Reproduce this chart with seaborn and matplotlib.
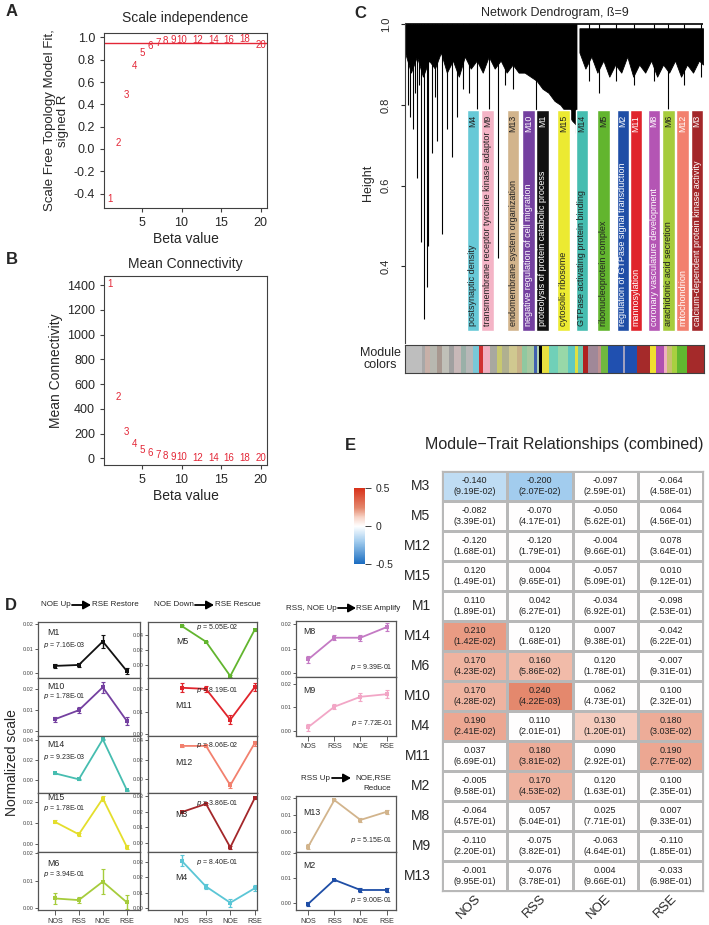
import numpy as np
import pandas as pd
import matplotlib
matplotlib.use("Agg")
import matplotlib.pyplot as plt
import seaborn as sns
from matplotlib.colors import LinearSegmentedColormap

# %% data

# A / B : soft-threshold selection
powers = [1, 2, 3, 4, 5, 6, 7, 8, 9, 10, 12, 14, 16, 18, 20]
sft_signed_r2 = [-0.45, 0.05, 0.48, 0.745, 0.857, 0.92, 0.946, 0.965, 0.975,
                 0.976, 0.98, 0.978, 0.98, 0.985, 0.93]
mean_conn = [1410, 493, 215, 113, 65, 45, 27, 19, 12, 10, 5, 3, 2, 1, 1]
r2_cut = 0.95

# C : dendrogram (leaf position in px from the left edge)
left_mass_x = [0, 6, 12, 18, 24, 30, 36, 42, 48, 54, 60, 66, 72, 78, 84, 90, 96,
               102, 108, 114, 120, 126, 132, 138, 144, 150, 156, 162, 168, 172]
left_mass_h = [0.93, 0.88, 0.92, 0.87, 0.91, 0.89, 0.93, 0.88, 0.91, 0.87, 0.92,
               0.89, 0.91, 0.88, 0.92, 0.89, 0.91, 0.88, 0.90, 0.88, 0.88, 0.87,
               0.86, 0.84, 0.83, 0.81, 0.80, 0.78, 0.76, 0.75]
right_mass_x = [175, 181, 187, 193, 199, 205, 211, 217, 223, 229, 235, 241, 247,
                253, 259, 265, 271, 277, 283, 289, 295, 299]
right_mass_h = [0.93, 0.89, 0.92, 0.88, 0.91, 0.87, 0.90, 0.88, 0.92, 0.87, 0.90,
                0.88, 0.91, 0.87, 0.90, 0.88, 0.91, 0.87, 0.90, 0.88, 0.91, 0.90]
drop_x = [3, 5, 8, 10, 12, 14, 16, 19, 22, 23, 27, 30, 32, 37, 42, 47, 52, 58, 64,
          72, 84, 93, 100, 108, 131, 172, 185, 195, 212, 230, 250, 264, 280, 297]
drop_h = [0.80, 0.77, 0.74, 0.83, 0.62, 0.85, 0.46, 0.27, 0.35, 0.45, 0.68, 0.82,
          0.71, 0.48, 0.74, 0.67, 0.77, 0.84, 0.83, 0.79, 0.79, 0.42, 0.85, 0.84,
          0.72, 0.73, 0.86, 0.83, 0.86, 0.85, 0.86, 0.79, 0.85, 0.87]

strip_colors = ["#bebebe", "#a8a8a8", "#c8b0a8", "#b8b8b0", "#a89890", "#c0c0b8",
                "#a0a0a0", "#c8b8b8", "#9ab0a8", "#b8b8b8", "#78c8d8", "#d03030",
                "#f0b0c0", "#a8a8a0", "#c8c870", "#b0b090", "#d0c890", "#c8b088",
                "#90c8a0", "#a8c8a0", "#4060b0", "#b0d0b0", "#000000", "#e8e040",
                "#70d0b8", "#98d8a8", "#60c8c0", "#e0e040", "#70c8b0", "#b02020",
                "#a08898", "#c09090", "#70b840", "#2050b0", "#a0a0c0", "#1e4fb0",
                "#a52a2a", "#f0e030", "#b050b0", "#f0b0c0", "#c8c070", "#a8d040",
                "#60b830", "#a52a2a"]
strip_widths = [17, 3, 5, 7, 5, 7, 5, 7, 5, 7, 6, 4, 7, 7, 5, 7, 8, 5, 5, 7, 3, 2,
                3, 7, 10, 10, 7, 3, 5, 5, 10, 3, 7, 15, 2, 12, 13, 6, 8, 3, 5, 5,
                10, 17]

go_modules = ["M4", "M9", "M13", "M10", "M1", "M15", "M14", "M5", "M2", "M11",
              "M8", "M6", "M12", "M3"]
go_terms = ["postsynaptic density",
            "transmembrane receptor tyrosine kinase adaptor",
            "endomembrane system organization",
            "negative regulation of cell migration",
            "proteolysis of protein catabolic process",
            "cytosolic ribosome",
            "GTPase activating protein binding",
            "ribonucleoprotein complex",
            "regulation of GTPase signal transduction",
            "mannosylation",
            "coronary vasculature development",
            "arachidonic acid secretion",
            "mitochondrion",
            "calcium-dependent protein kinase activity"]

# D : module eigengene trends
conditions = ["NOS", "RSS", "NOE", "RSE"]
trend_modules = ["M1", "M10", "M14", "M15", "M6",
                 "M5", "M11", "M12", "M3", "M4",
                 "M8", "M9", "M13", "M2"]
trend_means = [[0.0028, 0.0032, 0.0129, 0.0007],
               [0.0056, 0.0099, 0.0208, 0.0048],
               [0.0067, 0.0007, 0.0407, -0.0100],
               [0.0105, 0.0046, 0.0215, -0.0013],
               [0.0036, 0.0030, 0.0097, 0.0022],
               [0.0520, 0.0310, -0.0147, 0.0467],
               [0.0205, 0.0200, 0.0064, 0.0207],
               [0.0340, 0.0340, -0.0060, 0.0366],
               [0.0197, 0.0250, -0.0030, 0.0285],
               [0.0310, 0.0140, 0.0033, 0.0128],
               [0.0057, 0.0145, 0.0145, 0.0188],
               [0.0015, 0.0103, 0.0146, 0.0157],
               [-0.0088, 0.0186, 0.0069, 0.0117],
               [-0.0005, 0.0092, 0.0051, 0.0051]]
trend_sems = [[0.0010, 0.0008, 0.0025, 0.0012],
              [0.0013, 0.0013, 0.0025, 0.0017],
              [0.0005, 0.0005, 0.0008, 0.0005],
              [0.0007, 0.0006, 0.0012, 0.0009],
              [0.0020, 0.0012, 0.0045, 0.0026],
              [0.0008, 0.0008, 0.0010, 0.0008],
              [0.0020, 0.0012, 0.0020, 0.0017],
              [0.0013, 0.0013, 0.0030, 0.0022],
              [0.0005, 0.0005, 0.0010, 0.0005],
              [0.0035, 0.0015, 0.0025, 0.0020],
              [0.0013, 0.0010, 0.0013, 0.0015],
              [0.0015, 0.0010, 0.0017, 0.0017],
              [0.0015, 0.0008, 0.0012, 0.0012],
              [0.0007, 0.0005, 0.0007, 0.0007]]
trend_pvals = ["7.16E-03", "1.78E-01", "9.23E-03", "1.78E-01", "3.94E-01",
               "5.05E-02", "8.19E-01", "8.06E-02", "3.86E-01", "8.40E-01",
               "9.39E-01", "7.72E-01", "5.15E-01", "9.00E-01"]

# E : module-trait correlations
traits = ["NOS", "RSS", "NOE", "RSE"]
trait_modules = ["M3", "M5", "M12", "M15", "M1", "M14", "M6", "M10", "M4", "M11",
                 "M2", "M8", "M9", "M13"]
cor_vals = [[-0.140, -0.200, -0.097, -0.064],
            [-0.082, -0.070, -0.050, 0.064],
            [-0.120, -0.120, -0.004, 0.078],
            [0.120, 0.004, -0.057, 0.010],
            [0.110, 0.042, -0.034, -0.098],
            [0.210, 0.120, 0.007, -0.042],
            [0.170, 0.160, 0.120, -0.007],
            [0.170, 0.240, 0.062, 0.100],
            [0.190, 0.110, 0.130, 0.180],
            [0.037, 0.180, 0.090, 0.190],
            [-0.005, 0.170, 0.120, 0.100],
            [-0.064, 0.057, 0.025, 0.007],
            [-0.110, -0.075, -0.063, -0.110],
            [-0.001, -0.076, 0.004, -0.033]]
cor_pvals = [["9.19E-02", "2.07E-02", "2.59E-01", "4.58E-01"],
             ["3.39E-01", "4.17E-01", "5.62E-01", "4.56E-01"],
             ["1.68E-01", "1.79E-01", "9.66E-01", "3.64E-01"],
             ["1.49E-01", "9.65E-01", "5.09E-01", "9.12E-01"],
             ["1.89E-01", "6.27E-01", "6.92E-01", "2.53E-01"],
             ["1.42E-02", "1.68E-01", "9.38E-01", "6.22E-01"],
             ["4.23E-02", "5.86E-02", "1.78E-01", "9.31E-01"],
             ["4.28E-02", "4.22E-03", "4.73E-01", "2.32E-01"],
             ["2.41E-02", "2.01E-01", "1.20E-01", "3.03E-02"],
             ["6.69E-01", "3.81E-02", "2.92E-01", "2.77E-02"],
             ["9.58E-01", "4.53E-02", "1.63E-01", "2.35E-01"],
             ["4.57E-01", "5.04E-01", "7.71E-01", "9.33E-01"],
             ["2.20E-01", "3.82E-01", "4.64E-01", "1.85E-01"],
             ["9.95E-01", "3.78E-01", "9.66E-01", "6.98E-01"]]

# %% style

module_colors = {"M1": "#111111", "M2": "#1f4ea6", "M3": "#a3272a", "M4": "#67c9d7",
                 "M5": "#62b52e", "M6": "#a6cc3c", "M8": "#b455b4", "M9": "#f4b4c6",
                 "M10": "#7440a0", "M11": "#e0242c", "M12": "#f2806e", "M13": "#d2b48c",
                 "M14": "#46bdb0", "M15": "#ecea32"}
trend_colors = dict(module_colors, M15="#e4de2c", M8="#c47ac4", M9="#f2a6c6",
                    M4="#5bc6d6")
light_text = {"M10", "M1", "M2", "M11", "M8", "M12", "M3"}
red = "#e32636"
edge = "#404040"

sns.set_style("ticks")
plt.rcParams['font.family'] = ['Liberation Sans', 'DejaVu Sans']
plt.rcParams['axes.edgecolor'] = edge
plt.rcParams['axes.linewidth'] = 0.8

W, H = 709, 925
fig = plt.figure(figsize=(W / 100, H / 100), dpi=100)


def px_axes(x0, y0, x1, y1):
    # pixel box (top-left origin) -> figure axes
    return fig.add_axes([x0 / W, 1 - y1 / H, (x1 - x0) / W, (y1 - y0) / H])


def fx(x):
    return x / W


def fy(y):
    return 1 - y / H


# %% A  scale independence
axA = px_axes(104, 33, 267, 208)
axA.axhline(r2_cut, color=red, lw=1)
for p, v in zip(powers, sft_signed_r2):
    axA.text(p, v, str(p), color=red, fontsize=7, ha='center', va='center')
axA.set_xlim(0.2, 20.8)
axA.set_ylim(-0.53, 1.04)
axA.set_xticks([5, 10, 15, 20])
axA.set_yticks([-0.4, -0.2, 0.0, 0.2, 0.4, 0.6, 0.8, 1.0])
axA.set_yticklabels([f"{t:.1f}" for t in [-0.4, -0.2, 0.0, 0.2, 0.4, 0.6, 0.8, 1.0]])
axA.tick_params(labelsize=9, length=3, width=0.8, color=edge)
axA.set_xlabel("Beta value", fontsize=10, labelpad=2)
axA.set_ylabel("Scale Free Topology Model Fit,\nsigned R", fontsize=9.5, labelpad=3)
axA.set_title("Scale independence", fontsize=10, pad=8)

# %% B  mean connectivity
axB = px_axes(104, 276, 267, 465)
for p, v in zip(powers, mean_conn):
    axB.text(p, v, str(p), color=red, fontsize=7, ha='center', va='center')
axB.set_xlim(0.2, 20.8)
axB.set_ylim(-54, 1473)
axB.set_xticks([5, 10, 15, 20])
axB.set_yticks(range(0, 1401, 200))
axB.tick_params(labelsize=9, length=3, width=0.8, color=edge)
axB.set_xlabel("Beta value", fontsize=10, labelpad=2)
axB.set_ylabel("Mean Connectivity", fontsize=10, labelpad=3)
axB.set_title("Mean Connectivity", fontsize=10, pad=6)

# %% C  dendrogram + module colors
axC = px_axes(405, 23, 704, 343)
axC.fill_between(left_mass_x, left_mass_h, 1.0, color='black', lw=0.6)
axC.fill_between(right_mass_x, right_mass_h, 0.99, color='black', lw=0.6)
axC.vlines(drop_x, drop_h, 1.0, color='black', lw=0.8)
axC.hlines(1.0, 0, 299, color='black', lw=1.2)

label_x = [68, 83, 108.5, 124, 138, 159, 177.5, 199, 218.5, 232, 250, 264.5, 278.5, 293]
box_top, box_bottom = 0.787, 0.24
axC.bar(label_x, box_top - box_bottom, bottom=box_bottom, width=12.5,
        color=[module_colors[m] for m in go_modules], zorder=2)
for xc, m, term in zip(label_x, go_modules, go_terms):
    tc = 'white' if m in light_text else '#222222'
    axC.text(xc, box_top - 0.012, m, rotation=90, ha='center', va='top',
             fontsize=6.3, color=tc, zorder=3)
    axC.text(xc, box_bottom + 0.012, term, rotation=90, ha='center', va='bottom',
             fontsize=6.5, color=tc, zorder=3)
axC.set_xlim(0, 300)
axC.set_ylim(0.21, 1.003)
axC.set_yticks([0.4, 0.6, 0.8, 1.0])
axC.set_yticklabels(["0.4", "0.6", "0.8", "1.0"], rotation=90, va='center')
axC.tick_params(axis='y', labelsize=8, length=3, width=0.8, pad=7)
axC.set_xticks([])
for s in ['top', 'right', 'bottom']:
    axC.spines[s].set_visible(False)
axC.set_ylabel("Height", fontsize=9, labelpad=5)
axC.set_title("Network Dendrogram, \u00df=9", fontsize=9, pad=5)

axS = px_axes(405, 345, 704, 373)
lefts = np.concatenate([[0], np.cumsum(strip_widths)[:-1]])
axS.bar(lefts, 1, width=strip_widths, align='edge', color=strip_colors, lw=0)
axS.set_xlim(0, sum(strip_widths))
axS.set_ylim(0, 1)
axS.set_xticks([])
axS.set_yticks([])
fig.text(fx(380), fy(359), "Module\ncolors", ha='center', va='center', fontsize=9,
         linespacing=1.1)

# %% D  module trends
d_boxes = [(38, 621.7, 140, 678), (38, 678, 140, 735.7), (38, 735.7, 140, 793),
           (38, 793, 140, 851.7), (38, 851.7, 140, 910),
           (147.7, 621.7, 257, 678), (147.7, 678, 257, 735.7), (147.7, 735.7, 257, 793),
           (147.7, 793, 257, 851.7), (147.7, 851.7, 257, 910),
           (295.7, 621, 396, 677.3), (295.7, 677.3, 396, 735.7),
           (295.7, 796, 396, 851.7), (295.7, 851.7, 396, 910)]
d_ylims = [(-0.0022, 0.0211), (-0.0022, 0.0252), (-0.013, 0.0443), (-0.0036, 0.0241),
           (-0.0006, 0.0206), (-0.0173, 0.0577), (-0.0006, 0.0248), (-0.0139, 0.0444),
           (-0.0058, 0.032), (-0.0015, 0.037), (-0.0016, 0.0213), (-0.0022, 0.023),
           (-0.0118, 0.021), (-0.003, 0.0206)]
d_yticks = [[0, 0.01, 0.02], [0, 0.01, 0.02], [0, 0.02, 0.04], [0, 0.01, 0.02],
            [0, 0.01, 0.02], [0, 0.02, 0.04], [0, 0.01, 0.02], [0, 0.02, 0.04],
            [0, 0.01, 0.02, 0.03], [0, 0.01, 0.02, 0.03], [0, 0.01, 0.02],
            [0, 0.01, 0.02], [0, 0.01, 0.02], [0, 0.01, 0.02]]
d_xlims = [(-0.7, 3.55)] * 5 + [(-1.4, 3.1)] * 5 + [(-0.48, 3.36)] * 4
# (x, y) of module name and p text in axes fraction
d_name_pos = [(0.09, 0.8), (0.09, 0.85), (0.09, 0.84), (0.09, 0.93), (0.09, 0.79),
              (0.26, 0.64), (0.25, 0.53), (0.25, 0.54), (0.25, 0.64), (0.25, 0.56),
              (0.08, 0.82), (0.08, 0.77), (0.08, 0.7), (0.08, 0.76)]
d_p_pos = [(0.05, 0.59), (0.05, 0.68), (0.05, 0.63), (0.05, 0.75), (0.05, 0.62),
           (0.44, 0.9), (0.44, 0.8), (0.44, 0.83), (0.44, 0.83), (0.44, 0.83),
           (0.97, 0.19), (0.97, 0.21), (0.97, 0.21), (0.97, 0.17)]
bottom_row = {"M6", "M4", "M9", "M2"}

for i, m in enumerate(trend_modules):
    ax = px_axes(*d_boxes[i])
    col = trend_colors[m]
    df = pd.DataFrame({"pos": range(len(conditions)), "value": trend_means[i]})
    sns.lineplot(data=df, x="pos", y="value", color=col, marker='s', markersize=3,
                 markeredgewidth=0, lw=1.3, sort=False, ax=ax)
    ax.errorbar(df["pos"], df["value"], yerr=trend_sems[i], fmt='none', ecolor=col,
                elinewidth=1, capsize=1.6, capthick=0.8)
    ax.set_xlim(*d_xlims[i])
    ax.set_ylim(*d_ylims[i])
    ax.set_yticks(d_yticks[i])
    ax.set_yticklabels([f"{t:.2f}" for t in d_yticks[i]])
    ax.set_xticks(range(len(conditions)))
    if m in bottom_row:
        ax.set_xticklabels(conditions)
    else:
        ax.tick_params(axis='x', length=0, labelbottom=False)
    ax.tick_params(axis='y', labelsize=4, length=2, width=0.6, pad=1, color=edge)
    ax.tick_params(axis='x', labelsize=5.2, width=0.6, pad=2, color=edge,
                   labelcolor='#333333')
    ax.tick_params(axis='y', labelcolor='#444444')
    for s in ax.spines.values():
        s.set_color('#555555')
        s.set_linewidth(0.9)
    ax.set_xlabel("")
    ax.set_ylabel("")
    nx, ny = d_name_pos[i]
    ax.text(nx, ny, m, transform=ax.transAxes, fontsize=6.3, ha='left', va='center')
    px_, py_ = d_p_pos[i]
    ax.text(px_, py_, f"$p$ = {trend_pvals[i]}", transform=ax.transAxes, fontsize=5,
            ha='right' if px_ > 0.9 else 'left', va='center')


def arrow_title(left, right, x_left_end, x_arrow0, x_arrow1, x_right_start, y):
    fig.text(fx(x_left_end), fy(y), left, ha='right', va='center', fontsize=5.8)
    fig.text(fx(x_right_start), fy(y), right, ha='left', va='center', fontsize=5.8)
    fig.add_artist(matplotlib.patches.FancyArrowPatch(
        (fx(x_arrow0), fy(y)), (fx(x_arrow1), fy(y)), transform=fig.transFigure,
        arrowstyle='-|>,head_length=0.5,head_width=0.28', mutation_scale=9,
        color='black', lw=1.3, shrinkA=0, shrinkB=0))


arrow_title("NOE Up", "RSE Restore", 71, 72, 91, 92, 605)
arrow_title("NOE Down", "RSE Rescue", 194, 195, 214, 215, 605)
arrow_title("RSS, NOE Up", "RSE Amplify", 337, 338, 356, 356.5, 608)
arrow_title("RSS Up", "NOE,RSE", 330, 332, 351, 355, 778)
fig.text(fx(377), fy(789), "Reduce", ha='center', va='center', fontsize=5.8)

fig.text(fx(12), fy(763), "Normalized scale", rotation=90, ha='center', va='center',
         fontsize=10)

# %% E  module-trait heatmap
cmap = LinearSegmentedColormap.from_list(
    "bwr_wgcna", [(0, '#1a6cc0'), (0.3, '#a3cdee'), (0.5, '#ffffff'),
                  (0.62, '#f7d3c6'), (0.74, '#e4886d'), (1, '#d8321a')])
cor = np.array(cor_vals)
shade = np.where(np.abs(cor) >= 0.125, cor, 0.0)
annot = np.array([[f"{r:.3f}\n({p})" for r, p in zip(rr, pp)]
                  for rr, pp in zip(cor_vals, cor_pvals)])
shade_df = pd.DataFrame(shade, index=trait_modules, columns=traits)

axE = px_axes(441.7, 470.7, 703.3, 891)
axCb = px_axes(354.3, 488.3, 365, 564)
sns.heatmap(shade_df, ax=axE, cbar_ax=axCb, cmap=cmap, vmin=-0.5, vmax=0.5,
            annot=annot, fmt='', linewidths=0.9, linecolor='#b8b8b8',
            annot_kws=dict(fontsize=6.5, color='#222222', linespacing=1.25))
axE.set_xticklabels(traits, rotation=45, ha='right', va='top', rotation_mode='anchor',
                    fontsize=9.5)
axE.set_yticklabels(trait_modules, rotation=0, fontsize=10)
axE.tick_params(axis='y', length=0, pad=8)
axE.tick_params(axis='x', length=0, pad=1)
axE.set_xlabel("")
axE.set_ylabel("")
for s in axE.spines.values():
    s.set_visible(True)
    s.set_color('#b8b8b8')
    s.set_linewidth(0.9)

cb = axE.collections[0].colorbar
cb.outline.set_visible(False)
cb.set_ticks([-0.5, 0, 0.5])
cb.set_ticklabels(["-0.5", "0", "0.5"])
axCb.tick_params(labelsize=7.5, length=4, width=0.7, color=edge)

fig.text(fx(564), fy(445), "Module\u2212Trait Relationships (combined)", ha='center',
         va='center', fontsize=11.5)

# %% panel letters
for letter, (x, y) in zip("ABCDE", [(12, 12), (12, 260), (360, 13), (11, 605), (350, 445)]):
    fig.text(fx(x), fy(y), letter, fontsize=12, fontweight='bold', ha='center',
             va='center')

fig.savefig("out.png", dpi=100)
